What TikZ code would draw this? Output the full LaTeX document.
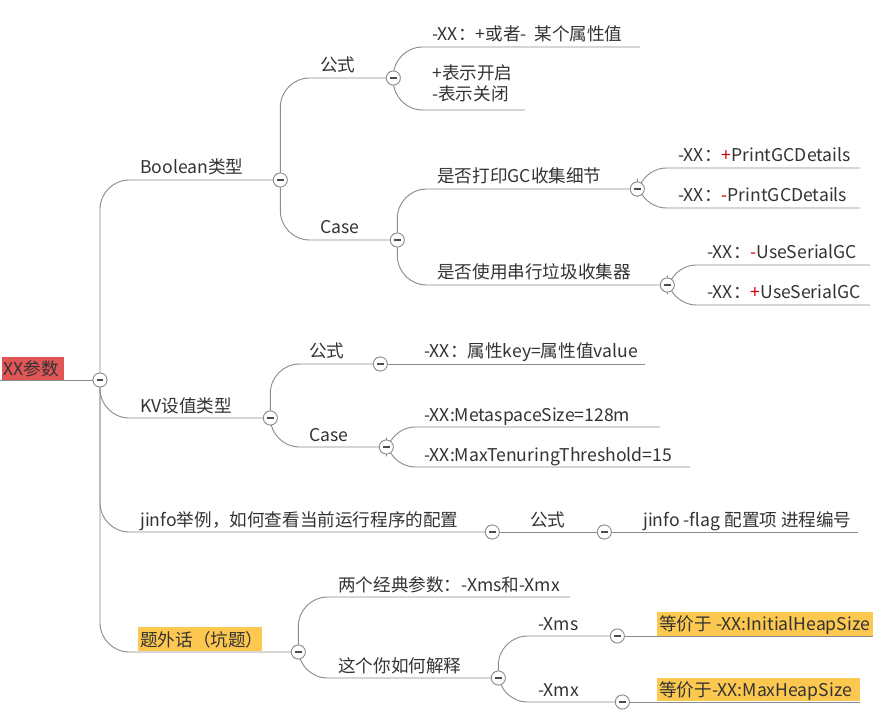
\documentclass[tikz,border=0pt]{standalone}
\usepackage{fontspec}
\setmainfont{Noto Sans CJK SC}
\definecolor{rootred}{RGB}{224,86,86}
\definecolor{hiyel}{RGB}{253,200,80}
\begin{document}
\begin{tikzpicture}[x=0.75pt,y=-0.75pt,
  tx/.style={anchor=base west,inner sep=0pt,text=black!80,font=\fontsize{13.2}{16}\selectfont},
  ln/.style={draw=black!45,line width=0.7pt},
  cn/.style={draw=black!45,line width=0.7pt,rounded corners=22pt},
  circ/.style={circle,draw=black!45,fill=white,line width=0.6pt,minimum size=10.5pt,inner sep=0pt,
    path picture={\draw[black!70,line width=0.9pt] ([xshift=-2.5pt]path picture bounding box.center) -- ([xshift=2.5pt]path picture bounding box.center);}}]
\useasboundingbox (0,0) rectangle (888,716);
\newcommand\topic[6]{%
  \coordinate (#1e) at (#3,#4);
  \draw[cn] (#6) |- (#1e);
  \node[tx] (#1) at (#2,#4-6) {#5};}
\newcommand\topicS[6]{%
  \coordinate (#1e) at (#3,#4);
  \draw[ln] (#6) -- (#1e);
  \node[tx] (#1) at (#2,#4-6) {#5};}
\newcommand\coll[1]{\node[circ] (#1c) at ([xshift=5.5pt]#1e) {};}
% root
\fill[rootred] (2,357) rectangle (64,380);
\node[tx] (root) at (3,375) {XX参数};
\coordinate (roote) at (93,380);
\draw[ln] (0,380) -- (roote);
\node[circ] (rootc) at (100,380) {};
\topic{bool}{140}{273}{180}{Boolean类型}{rootc}
\topic{kv}{140}{263}{418}{KV设值类型}{rootc}
\topic{jinfo}{140}{485}{532}{jinfo举例，如何查看当前运行程序的配置}{rootc}
\fill[hiyel] (138,627) rectangle (262,651);
\topic{pit}{140}{291}{652}{题外话（坑题）}{rootc}
\node[circ] at (rootc) {};
\coll{bool}\coll{kv}\coll{jinfo}\coll{pit}
% Boolean
\topic{bf}{320}{386}{78}{公式}{boolc}
\topic{bc}{320}{390}{240}{Case}{boolc}
\coll{bf}\coll{bc}\node[circ] at (boolc) {};
\topic{bfa}{432}{640}{47}{-XX：+或者-\ \ 某个属性值}{bfc}
\coordinate (bfbe) at (525,110);
\draw[cn] (bfc) |- (bfbe);
\node[tx,align=left,anchor=north west] (bfb) at (432,64) {+表示开启\\-表示关闭};
\node[circ] at (bfc) {};
\topic{gc}{437}{630}{189}{是否打印GC收集细节}{bcc}
\topic{sg}{437}{660}{285}{是否使用串行垃圾收集器}{bcc}
\coll{gc}\coll{sg}\node[circ] at (bcc) {};
\topic{gc1}{678}{860}{168}{-XX：\textcolor{red!80!black}{+}PrintGCDetails}{gcc}
\topic{gc2}{678}{860}{208}{-XX：\textcolor{red!80!black}{-}PrintGCDetails}{gcc}
\node[circ] at (gcc) {};
\topic{sg1}{707}{870}{265}{-XX：\textcolor{red!80!black}{-}UseSerialGC}{sgc}
\topic{sg2}{707}{870}{305}{-XX：\textcolor{red!80!black}{+}UseSerialGC}{sgc}
\node[circ] at (sgc) {};
% KV
\topic{kf}{309}{373}{364}{公式}{kvc}
\topic{kc}{309}{379}{447}{Case}{kvc}
\coll{kf}\coll{kc}\node[circ] at (kvc) {};
\topicS{kf1}{424}{645}{364}{-XX：属性key=属性值value}{kfc}
\node[circ] at (kfc) {};
\topic{kc1}{424}{660}{427}{-XX:MetaspaceSize=128m}{kcc}
\topic{kc2}{424}{690}{467}{-XX:MaxTenuringThreshold=15}{kcc}
\node[circ] at (kcc) {};
% jinfo
\topicS{jf}{530}{597}{532}{公式}{jinfoc}
\coll{jf}\node[circ] at (jinfoc) {};
\topicS{jf1}{643}{858}{532}{jinfo -flag 配置项 进程编号}{jfc}
\node[circ] at (jfc) {};
% pit
\topic{p1}{338}{570}{597}{两个经典参数：-Xms和-Xmx}{pitc}
\topic{p2}{338}{491}{678}{这个你如何解释}{pitc}
\coll{p2}\node[circ] at (pitc) {};
\topic{xms}{538}{610}{636}{-Xms}{p2c}
\topic{xmx}{538}{615}{702}{-Xmx}{p2c}
\coll{xms}\coll{xmx}\node[circ] at (p2c) {};
\fill[hiyel] (657,612) rectangle (873,636);
\topicS{xms1}{659}{873}{636}{等价于 -XX:InitialHeapSize}{xmsc}
\node[circ] at (xmsc) {};
\fill[hiyel] (657,678) rectangle (860,701);
\topicS{xmx1}{659}{860}{702}{等价于-XX:MaxHeapSize}{xmxc}
\node[circ] at (xmxc) {};
\end{tikzpicture}
\end{document}
